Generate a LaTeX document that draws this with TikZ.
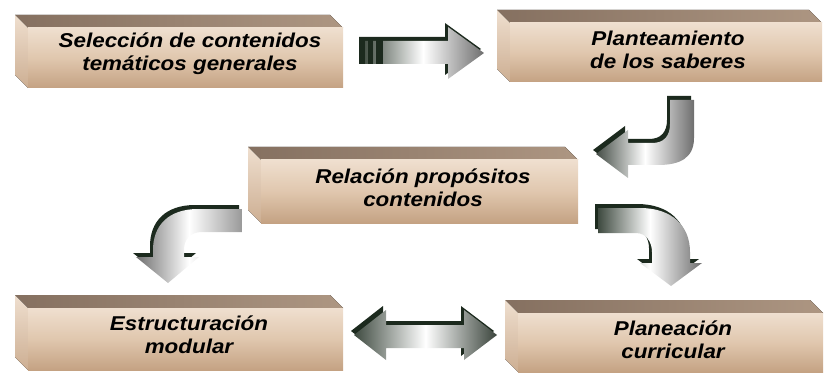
\documentclass[tikz,border=0pt]{standalone}
\usepackage{fontspec}
\newfontfamily\cajafont{Liberation Sans}[FakeStretch=1.12]
\definecolor{cafeOsc}{HTML}{857060}
\definecolor{cafeMed}{HTML}{AD9682}
\definecolor{beigeCl}{HTML}{EFDFCF}
\definecolor{beigeMed}{HTML}{E0C7AE}
\definecolor{tanOsc}{HTML}{C4A283}
\definecolor{verdeNeg}{HTML}{1C2A1E}
\definecolor{grisFl}{HTML}{6E6E6E}
\tikzset{
  cara sup/.style={left color=cafeOsc,right color=cafeMed,draw=none},
  cara lat/.style={top color=beigeCl,bottom color=tanOsc!80!beigeCl,draw=none},
  cara fr/.style={top color=beigeCl,bottom color=tanOsc,middle color=beigeMed,draw=none},
  rotulo/.style={font=\cajafont\bfseries\itshape\fontsize{20}{23}\selectfont,align=center,inner sep=0pt},
  extrusion/.style={preaction={fill=verdeNeg,transform canvas={shift={(-3pt,4pt)}}}},
  flecha/.style={extrusion,draw=none,left color=verdeNeg!85,right color=grisFl,middle color=white},
}
\begin{document}
\begin{tikzpicture}[x=1pt,y=-1pt]
\useasboundingbox (0,0) rectangle (824,374);

% cajas
\fill[cara sup] (15,15) -- (330,15) -- (343,28) -- (28,28) -- cycle;
\fill[cara lat] (15,15) -- (28,28) -- (28,88) -- (15,75) -- cycle;
\fill[cara fr] (28,28) rectangle (343,88);
\node[rotulo] (sel) at (190,54) {Selección de contenidos\\temáticos generales};

\fill[cara sup] (497,10) -- (809,10) -- (822,23) -- (510,23) -- cycle;
\fill[cara lat] (497,10) -- (510,23) -- (510,82) -- (497,69) -- cycle;
\fill[cara fr] (510,23) rectangle (822,82);
\node[rotulo] (plant) at (668,50) {Planteamiento\\de los saberes};

\fill[cara sup] (248,147) -- (565,147) -- (578,160) -- (261,160) -- cycle;
\fill[cara lat] (248,147) -- (261,160) -- (261,223) -- (248,210) -- cycle;
\fill[cara fr] (261,160) rectangle (578,223);
\node[rotulo] (rel) at (423,188) {Relación propósitos\\contenidos};

\fill[cara sup] (15,295) -- (330,295) -- (343,308) -- (28,308) -- cycle;
\fill[cara lat] (15,295) -- (28,308) -- (28,370) -- (15,357) -- cycle;
\fill[cara fr] (28,308) rectangle (343,370);
\node[rotulo] (estr) at (189,335) {Estructuración\\modular};

\fill[cara sup] (505,300) -- (810,300) -- (823,313) -- (518,313) -- cycle;
\fill[cara lat] (505,300) -- (518,313) -- (518,372) -- (505,359) -- cycle;
\fill[cara fr] (518,313) rectangle (823,372);
\node[rotulo] (plan) at (673,340) {Planeación\\curricular};

% flechas
\path[flecha] (362,41) -- (448,41) -- (448,27) -- (484,53) -- (448,79) -- (448,64) -- (362,64) -- cycle;
\fill[verdeNeg] (359,37) rectangle (365,64);
\fill[verdeNeg] (368,37) rectangle (373,64);
\fill[verdeNeg] (376,37) rectangle (383,64);

\path[flecha,left color=verdeNeg!60!gray,right color=grisFl,middle color=white] (670,100) -- (694,100) -- (694,138) .. controls (694,158) and (680,165) .. (658,165) -- (628,165) -- (628,178) -- (596,154) -- (628,130) -- (628,143) -- (652,143) .. controls (664,143) and (670,136) .. (670,124) -- cycle;

\path[flecha,left color=grisFl,right color=grisFl!70,middle color=white] (242,209) -- (198,209) .. controls (168,209) and (153,226) .. (153,250) -- (153,257) -- (136,257) -- (168,283) -- (199,257) -- (184,257) -- (184,250) .. controls (184,240) and (190,232) .. (202,232) -- (242,232) -- cycle;

\path[flecha] (598,208) -- (640,208) .. controls (672,208) and (690,226) .. (690,252) -- (690,263) -- (702,263) -- (671,286) -- (640,263) -- (652,263) -- (652,252) .. controls (652,242) and (646,233) .. (636,233) -- (598,233) -- cycle;

\path[flecha,left color=verdeNeg!85,right color=verdeNeg!70!gray,middle color=white] (354,335) -- (386,310) -- (386,325) -- (464,325) -- (464,310) -- (497,335) -- (464,360) -- (464,348) -- (386,348) -- (386,360) -- cycle;
\end{tikzpicture}
\end{document}
